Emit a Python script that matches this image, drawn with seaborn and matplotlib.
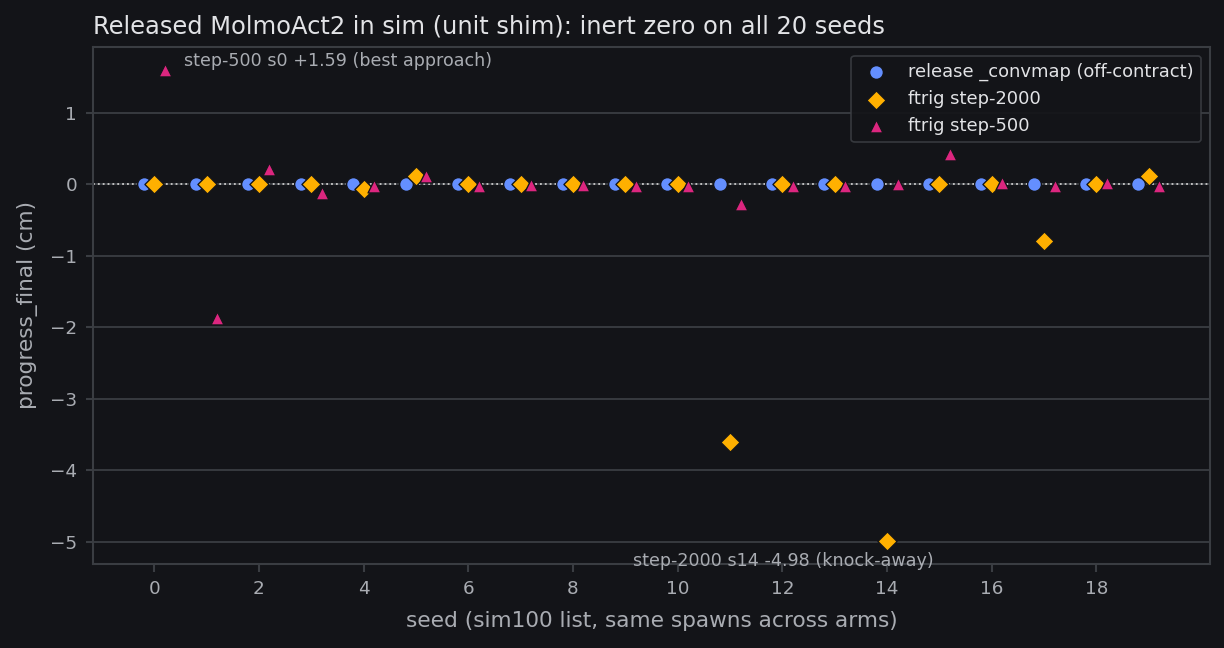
import numpy as np
import pandas as pd
import matplotlib
matplotlib.use("Agg")
import matplotlib.pyplot as plt
import seaborn as sns

seeds = list(range(20))
release_vals = [0.0] * 20
step2000_vals = [0.0, 0.0, 0.0, 0.0, -0.07, 0.12, 0.0, 0.0, 0.0, 0.0,
                 0.0, -3.60, 0.0, 0.0, -4.98, 0.0, 0.0, -0.79, 0.0, 0.12]
step500_vals = [1.59, -1.87, 0.21, -0.12, -0.03, 0.11, -0.02, -0.01, -0.01, -0.02,
                -0.02, -0.27, -0.02, -0.02, 0.0, 0.42, 0.02, -0.02, 0.02, -0.02]

arm_names = ["release _convmap (off-contract)", "ftrig step-2000", "ftrig step-500"]
arm_offsets = [-0.2, 0.0, 0.2]
arm_colors = ["#648FFF", "#FFB000", "#DC267F"]
arm_markers = ["o", "D", "^"]
arm_sizes = [68, 66, 60]

BG = "#131418"
GRID = "#3a3d42"
TXT = "#a9acb2"

sns.set_theme(style="dark", rc={
    "figure.facecolor": BG, "axes.facecolor": BG, "axes.edgecolor": GRID,
    "axes.labelcolor": TXT, "xtick.color": TXT, "ytick.color": TXT,
    "text.color": TXT, "grid.color": GRID, "axes.grid": True,
    "xtick.bottom": True, "ytick.left": True,
})
plt.rcParams['font.family'] = ['DejaVu Sans']

rows = []
for name, off, vals in zip(arm_names, arm_offsets, [release_vals, step2000_vals, step500_vals]):
    for s, v in zip(seeds, vals):
        rows.append({"seed": s + off, "progress": v, "arm": name})
df = pd.DataFrame(rows)

fig, ax = plt.subplots(figsize=(10.2, 5.4), dpi=120)
ax.axhline(0, color="#c8c8c8", ls=":", lw=1.1, zorder=1)
ax.grid(axis="x", visible=False)
ax.grid(axis="y", color=GRID, lw=1.1)

for name, col, mk, sz in zip(arm_names, arm_colors, arm_markers, arm_sizes):
    sub = df[df["arm"] == name]
    sns.scatterplot(data=sub, x="seed", y="progress", ax=ax, color=col, marker=mk,
                    s=sz, edgecolor=BG, linewidth=0.8, label=name, zorder=3)

ax.annotate("step-500 s0 +1.59 (best approach)", xy=(0.2, 1.59), xytext=(11.5, 5.5),
            textcoords="offset points", fontsize=10.5, color=TXT, va="center")
ax.annotate("step-2000 s14 -4.98 (knock-away)", xy=(14.0, -4.98), xytext=(-62, -12.5),
            textcoords="offset points", fontsize=10.5, color=TXT, va="center", ha="center")

ax.set_xticks(range(0, 20, 2))
ax.set_xlabel("seed (sim100 list, same spawns across arms)", fontsize=13, labelpad=8)
ax.set_ylabel("progress_final (cm)", fontsize=13, labelpad=7)
ax.set_title("Released MolmoAct2 in sim (unit shim): inert zero on all 20 seeds",
             fontsize=14.5, color="#e2e3e6", loc="left", pad=8)
ax.tick_params(labelsize=11, length=4.5, pad=5, color=GRID)
leg = ax.legend(loc="upper right", fontsize=10.7, facecolor=BG, edgecolor=GRID, framealpha=0.9)
for t in leg.get_texts():
    t.set_color("#e2e3e6")
for sp in ax.spines.values():
    sp.set_color(GRID)

fig.subplots_adjust(left=0.076, right=0.9886, top=0.9275, bottom=0.1296)
plt.savefig("out.png", dpi=120, facecolor=BG)
